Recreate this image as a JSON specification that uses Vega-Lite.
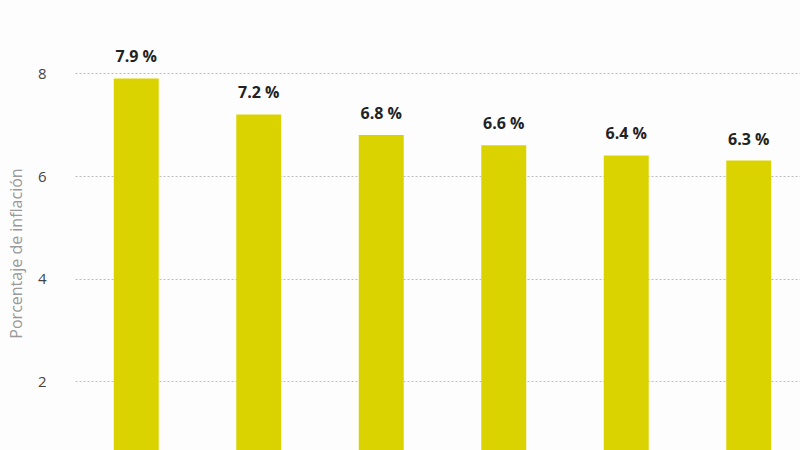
{
  "$schema": "https://vega.github.io/schema/vega-lite/v6.json",
  "autosize": "none",
  "padding": {"left": 75, "top": 22, "right": 0, "bottom": 0},
  "width": 735,
  "height": 462,
  "background": "#fdfdfd",
  "config": {"view": {"stroke": null}, "font": "Open Sans"},
  "data": {"values": [
    {"periodo": "2023", "inflacion": 7.9},
    {"periodo": "2024", "inflacion": 7.2},
    {"periodo": "2025", "inflacion": 6.8},
    {"periodo": "2026", "inflacion": 6.6},
    {"periodo": "2027", "inflacion": 6.4},
    {"periodo": "2028", "inflacion": 6.3}
  ]},
  "encoding": {
    "x": {"field": "periodo", "type": "nominal", "sort": null,
          "scale": {"paddingInner": 0.633, "paddingOuter": 0.3165},
          "axis": null},
    "y": {"field": "inflacion", "type": "quantitative",
          "scale": {"domain": [0, 9], "nice": false},
          "axis": {"title": "Porcentaje de inflación", "values": [2, 4, 6, 8],
                   "domain": false, "ticks": false, "labelPadding": 29,
                   "labelFontSize": 15, "labelColor": "#444", "labelFont": "Open Sans",
                   "titleFontSize": 16, "titleFontWeight": "normal", "titleColor": "#999",
                   "titleFont": "Open Sans", "titlePadding": 13,
                   "gridColor": "#bdbdbd", "gridDash": [2, 2], "gridWidth": 1}}
  },
  "layer": [
    {"mark": {"type": "bar", "color": "#dbd300"}},
    {"mark": {"type": "text", "baseline": "alphabetic", "dy": -16, "fontSize": 16,
              "fontWeight": "bold", "color": "#222", "font": "Open Sans",
              "text": {"expr": "format(datum.inflacion, '.1f') + ' %'"}}}
  ]
}
